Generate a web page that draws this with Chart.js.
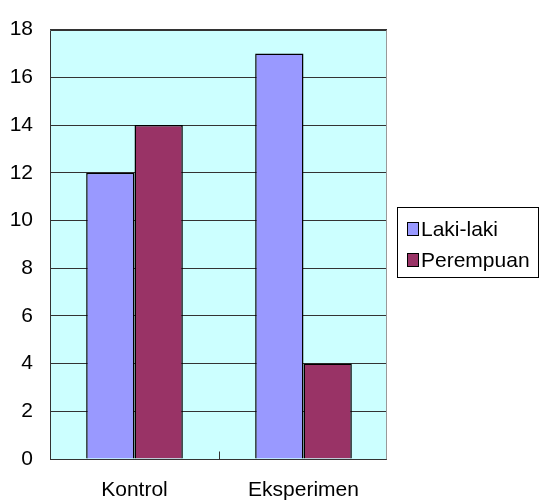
<!DOCTYPE html>
<html>
<head>
<meta charset="utf-8">
<script src="https://cdn.jsdelivr.net/npm/chart.js@4"></script>
<style>
  html, body { margin: 0; padding: 0; background: #fff; }
  #wrap { width: 540px; height: 502px; }
</style>
</head>
<body>
<div id="wrap"><canvas id="c" width="540" height="502"></canvas></div>
<script>
const categories = ['Kontrol', 'Eksperimen'];
const seriesNames = ['Laki-laki', 'Perempuan'];
const lakiLaki = [12, 17];
const perempuan = [14, 4];
const yTicks = [0, 2, 4, 6, 8, 10, 12, 14, 16, 18];

const FONT = 'Liberation Sans, Arial, sans-serif';
const colors = ['#9999FF', '#993366'];

// plot background, plot frame, inner category ticks and the boxed legend
const decor = {
  id: 'decor',
  beforeDraw(chart) {
    const a = chart.chartArea, ctx = chart.ctx;
    ctx.save();
    ctx.fillStyle = '#CCFFFF';
    ctx.fillRect(a.left, a.top, a.right - 2 - a.left, a.bottom - a.top);
    ctx.restore();
  },
  afterDraw(chart) {
    const a = chart.chartArea, ctx = chart.ctx;
    const x = chart.scales.x;
    const L = Math.round(a.left) + 0.5, T = Math.round(a.top) + 0.5;
    const R = Math.round(a.right) - 2 + 0.5, B = Math.round(a.bottom) + 0.5;
    ctx.save();
    // keep grid lines inside the frame
    ctx.fillStyle = '#fff';
    ctx.fillRect(R + 0.5, a.top - 2, 4, a.bottom - a.top + 4);
    ctx.lineWidth = 1;
    ctx.strokeStyle = '#999';
    ctx.beginPath(); ctx.moveTo(R, T); ctx.lineTo(R, B); ctx.stroke();
    ctx.strokeStyle = '#333';
    ctx.beginPath(); ctx.moveTo(L, T); ctx.lineTo(L, B); ctx.lineTo(R, B); ctx.stroke();
    ctx.beginPath(); ctx.moveTo(L, T); ctx.lineTo(R, T); ctx.stroke();
    // category separator ticks along the baseline
    for (let i = 0; i < categories.length - 1; i++) {
      const px = Math.round((x.getPixelForValue(i) + x.getPixelForValue(i + 1)) / 2) + 0.5;
      ctx.beginPath();
      ctx.moveTo(px, B);
      ctx.lineTo(px, B - 8);
      ctx.stroke();
    }
    // legend
    const lx = 397.5, ly = 207.5, lw = 141, lh = 70;
    ctx.fillStyle = '#fff';
    ctx.fillRect(lx, ly, lw, lh);
    ctx.strokeStyle = '#000';
    ctx.strokeRect(lx, ly, lw, lh);
    ctx.font = '21px ' + FONT;
    ctx.textBaseline = 'middle';
    chart.data.datasets.forEach((ds, i) => {
      const cy = 229 + i * 31;
      ctx.fillStyle = ds.backgroundColor;
      ctx.fillRect(407, cy - 7, 12, 14);
      ctx.strokeStyle = '#000';
      ctx.strokeRect(407.5, cy - 6.5, 11, 13);
      ctx.fillStyle = '#000';
      ctx.fillText(ds.label, 421, cy + 1);
    });
    ctx.restore();
  }
};

new Chart(document.getElementById('c'), {
  type: 'bar',
  data: {
    labels: categories,
    datasets: [
      { label: seriesNames[0], data: lakiLaki, backgroundColor: colors[0], borderColor: '#000', borderWidth: 1.5 },
      { label: seriesNames[1], data: perempuan, backgroundColor: colors[1], borderColor: '#000', borderWidth: 1.5 }
    ]
  },
  options: {
    responsive: false,
    animation: false,
    devicePixelRatio: 1,
    layout: { padding: { top: 26, right: 152, left: 0, bottom: 0 } },
    datasets: { bar: { categoryPercentage: 0.572, barPercentage: 1 } },
    plugins: { legend: { display: false }, tooltip: { enabled: false } },
    scales: {
      x: {
        grid: { display: false },
        border: { display: false },
        ticks: { color: '#000', font: { family: FONT, size: 21 }, padding: 11 },
        afterFit(s) { s.height = 43; }
      },
      y: {
        min: 0, max: 18,
        afterBuildTicks(s) { s.ticks = yTicks.map(v => ({ value: v })); },
        grid: { color: '#333', lineWidth: 1, drawTicks: false },
        border: { display: false },
        ticks: { color: '#000', font: { family: FONT, size: 21 }, padding: 17 },
        afterFit(s) { s.width = 50; }
      }
    }
  },
  plugins: [decor]
});
</script>
</body>
</html>
